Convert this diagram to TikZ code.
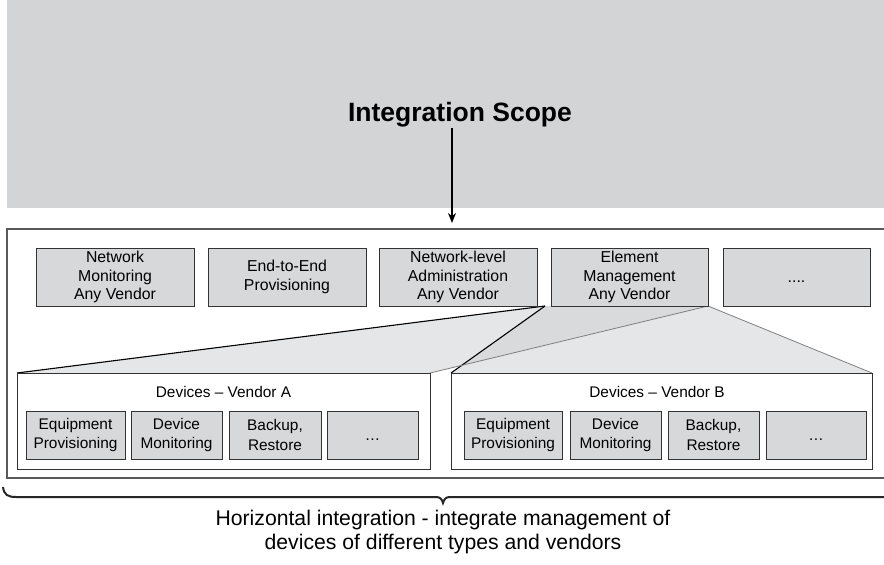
\documentclass[tikz,border=0pt]{standalone}
\usepackage{fontspec}
\setmainfont{Liberation Sans}
\usetikzlibrary{arrows.meta}
\definecolor{topgray}{HTML}{D3D4D6}
\definecolor{boxgray}{HTML}{D7D8DA}
\definecolor{fangray}{HTML}{E5E6E7}
\definecolor{overgray}{HTML}{D9DADC}
\definecolor{edge}{HTML}{333333}
\definecolor{frame}{HTML}{5A5A5A}
\begin{document}
\begin{tikzpicture}[x=1pt,y=-1pt,
  topbox/.style={draw=edge, line width=1pt, fill=boxgray, minimum height=58pt,
    align=center, inner sep=0pt, font=\fontsize{15.8}{18.6}\selectfont},
  smallbox/.style={draw=edge, line width=1pt, fill=boxgray, minimum height=48pt,
    align=center, inner sep=0pt, font=\fontsize{15.4}{19.5}\selectfont},
  devbox/.style={draw=edge, line width=1pt, fill=white, minimum height=96pt, inner sep=0pt},
  devlabel/.style={font=\fontsize{15.4}{18}\selectfont, inner sep=0pt},
  fanblack/.style={draw=black, line width=1.1pt},
  fangrayline/.style={draw=gray, line width=0.8pt}]
\useasboundingbox (0,0) rectangle (884,565);

% top gray area
\fill[topgray] (7,0) rectangle (884,208);
\node[font=\bfseries\fontsize{26.5}{30}\selectfont, inner sep=0pt] (scope) at (460,115) {Integration Scope};
\coordinate (arrowstart) at (452,128);
\coordinate (arrowend) at (452,223);
\draw[line width=1.4pt, -{Stealth[length=10pt,width=8pt]}] (arrowstart) -- (arrowend);

% outer frame
\draw[frame, line width=1.6pt] (890,229) -- (7,229) -- (7,478) -- (890,478);

% fan coordinates
\coordinate (fl) at (545,306);
\coordinate (fr) at (708,306);
\coordinate (aL) at (17,373);
\coordinate (aR) at (430,373);
\coordinate (bL) at (451,373);
\coordinate (bR) at (872,373);
\coordinate (ov) at (463,365);

\fill[fangray] (fl) -- (fr) -- (aR) -- (aL) -- cycle;
\fill[fangray] (fl) -- (fr) -- (bR) -- (bL) -- cycle;
\fill[overgray] (fl) -- (fr) -- (ov) -- cycle;
\draw[fanblack] (fl) -- (aL);
\draw[fanblack] (fl) -- (bL);
\draw[fangrayline] (fr) -- (aR);
\draw[fangrayline] (fr) -- (bR);

% top row boxes
\node[topbox, minimum width=158pt] (nm) at (115,277) {Network\\Monitoring\\Any Vendor};
\node[topbox, minimum width=158pt] (ee) at (287,277) {End-to-End\\Provisioning};
\node[topbox, minimum width=158pt] (na) at (458,277) {Network-level\\Administration\\Any Vendor};
\node[topbox, minimum width=157pt] (em) at (629.5,277) {Element\\Management\\Any Vendor};
\node[topbox, minimum width=147pt] (more) at (796.5,277) {\vphantom{A}....};

% devices A
\node[devbox, minimum width=413pt] (devA) at (223.5,421) {};
\node[devlabel] (devAl) at (223.5,392) {Devices – Vendor A};
\node[smallbox, minimum width=99pt] (a1) at (75.5,435) {Equipment\\Provisioning};
\node[smallbox, minimum width=91pt] (a2) at (176.5,435) {Device\\Monitoring};
\node[smallbox, minimum width=92pt] (a3) at (275,435) {Backup,\\Restore};
\node[smallbox, minimum width=91pt] (a4) at (372.5,435) {\vphantom{A}…};

% devices B
\node[devbox, minimum width=421pt] (devB) at (661.5,421) {};
\node[devlabel] (devBl) at (657,392) {Devices – Vendor B};
\node[smallbox, minimum width=98pt] (b1) at (513,435) {Equipment\\Provisioning};
\node[smallbox, minimum width=91pt] (b2) at (615.5,435) {Device\\Monitoring};
\node[smallbox, minimum width=91pt] (b3) at (713.5,435) {Backup,\\Restore};
\node[smallbox, minimum width=100pt] (b4) at (816,435) {\vphantom{A}…};

% brace
\draw[line width=2pt, black!85] (3,487) .. controls (4,495) and (8,497) .. (16,497)
  -- (436,497) .. controls (440,497) and (442,499) .. (443,503)
  .. controls (444,499) and (446,497) .. (450,497) -- (890,497);

\node[align=center, font=\fontsize{21.2}{23.5}\selectfont, inner sep=0pt] (caption) at (443,532)
  {Horizontal integration - integrate management of\\devices of different types and vendors};
\end{tikzpicture}
\end{document}
